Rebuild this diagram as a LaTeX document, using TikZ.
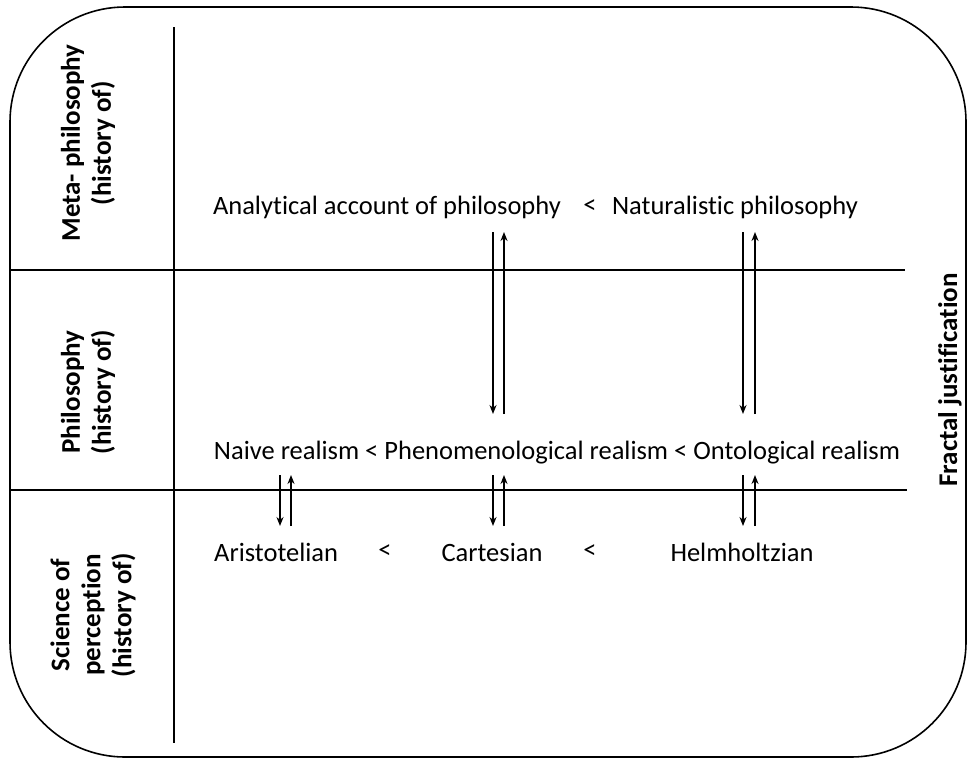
\documentclass[tikz,border=0pt]{standalone}
\usepackage{fontspec}
\setmainfont{Carlito}[Ligatures=NoCommon]
\usetikzlibrary{arrows.meta}
\begin{document}
\begin{tikzpicture}[x=1pt,y=-1pt,
  every node/.style={font=\fontsize{26.5}{30}\selectfont, inner sep=0pt},
  rowlabel/.style={rotate=90, align=center, font=\fontsize{27}{31}\selectfont\bfseries},
  rule/.style={line width=1.6pt},
  link/.style={line width=1.6pt, -{Stealth[length=9pt,width=7pt]}}]
\useasboundingbox (0,0) rectangle (976,764);
% frame and grid
\draw[rule, rounded corners=115pt] (10,7) rectangle (966,757);
\draw[rule] (174,27) -- (174,743);
\draw[rule] (10,270) -- (905,270);
\draw[rule] (10,490) -- (907,490);
% row labels
\node[rowlabel] (lmeta) at (88,143) {Meta- philosophy\\(history of)};
\node[rowlabel] (lphil) at (88,392) {Philosophy\\(history of)};
\node[rowlabel] (lsci) at (93,615) {Science of\\perception\\(history of)};
\node[rowlabel] (lfrac) at (950,380) {Fractal justification};
% meta-philosophy row
\node (anal) at (387,207) {Analytical account of philosophy};
\node (lt1) at (590,207) {<};
\node (nat) at (735,207) {Naturalistic philosophy};
% philosophy row
\node (phil) at (557,453) {Naive realism < Phenomenological realism < Ontological realism};
% science row
\node[anchor=west] (ari) at (214,552) {Aristotelian};
\node (lt2) at (385,552) {<};
\node (car) at (492,552) {Cartesian};
\node (lt3) at (590,552) {<};
\node (hel) at (742,552) {Helmholtzian};
% arrow endpoints
\coordinate (a1t) at (493,232); \coordinate (a1b) at (493,414);
\coordinate (b1t) at (504,232); \coordinate (b1b) at (504,414);
\coordinate (a2t) at (743,232); \coordinate (a2b) at (743,414);
\coordinate (b2t) at (755,232); \coordinate (b2b) at (755,414);
\coordinate (c1t) at (280,475); \coordinate (c1b) at (280,526);
\coordinate (d1t) at (291,475); \coordinate (d1b) at (291,526);
\coordinate (c2t) at (493,475); \coordinate (c2b) at (493,526);
\coordinate (d2t) at (504,475); \coordinate (d2b) at (504,526);
\coordinate (c3t) at (743,475); \coordinate (c3b) at (743,526);
\coordinate (d3t) at (755,475); \coordinate (d3b) at (755,526);
% paired arrows between rows
\draw[link] (a1t) -- (a1b); \draw[link] (b1b) -- (b1t);
\draw[link] (a2t) -- (a2b); \draw[link] (b2b) -- (b2t);
\draw[link] (c1t) -- (c1b); \draw[link] (d1b) -- (d1t);
\draw[link] (c2t) -- (c2b); \draw[link] (d2b) -- (d2t);
\draw[link] (c3t) -- (c3b); \draw[link] (d3b) -- (d3t);
\end{tikzpicture}
\end{document}
